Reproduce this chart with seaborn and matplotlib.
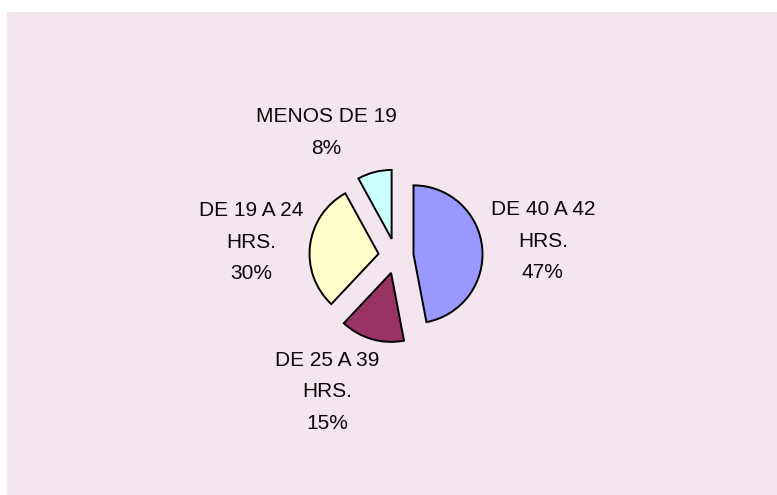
import matplotlib
matplotlib.use("Agg")
import matplotlib.pyplot as plt
from matplotlib.patches import Rectangle
import numpy as np
import seaborn as sns

# Weekly working hours distribution
categories = ["DE 40 A 42\nHRS.", "DE 25 A 39\nHRS.", "DE 19 A 24\nHRS.", "MENOS DE 19"]
shares = [47, 15, 30, 8]
slice_colors = ["#9999FF", "#993366", "#FFFFCC", "#CCFFFF"]

# Label placement: angle (degrees, CCW from +x) and distance in pie radii
label_angles = [5.8, -116.9, 174.5, 119.4]
label_dist = [2.14, 2.21, 2.11, 2.06]

sns.set_theme(style="white")
plt.rcParams["font.family"] = ["Liberation Sans", "DejaVu Sans"]

W, H = 777, 495
fig = plt.figure(figsize=(W / 100, H / 100), dpi=100)
fig.patch.set_facecolor("white")

# Chart area panel, running off the right and bottom edges
fig.add_artist(Rectangle((7 / W, -0.02), 1.0, (H - 12) / H + 0.02,
                         transform=fig.transFigure, facecolor="#F3E6EE",
                         edgecolor="none", zorder=0))

ax = fig.add_axes([0, 0, 1, 1])
ax.set_facecolor("none")

cx, cy, r = 396, H - 256, 69
# explode is given in data units, so scale by the radius
wedges, _ = ax.pie(shares, colors=slice_colors, startangle=90, counterclock=False,
                   explode=[0.255 * r] * len(shares), center=(cx, cy), radius=r,
                   wedgeprops=dict(edgecolor="black", linewidth=1.4))

ax.set_xlim(0, W)
ax.set_ylim(0, H)
ax.set_aspect("equal")
ax.axis("off")

for cat, val, ang, dist in zip(categories, shares, label_angles, label_dist):
    a = np.deg2rad(ang)
    ax.text(cx + dist * r * np.cos(a), cy + dist * r * np.sin(a),
            f"{cat}\n{val}%", ha="center", va="center", fontsize=15,
            color="#0a0a0a", linespacing=1.85)

fig.savefig("out.png", dpi=100)
